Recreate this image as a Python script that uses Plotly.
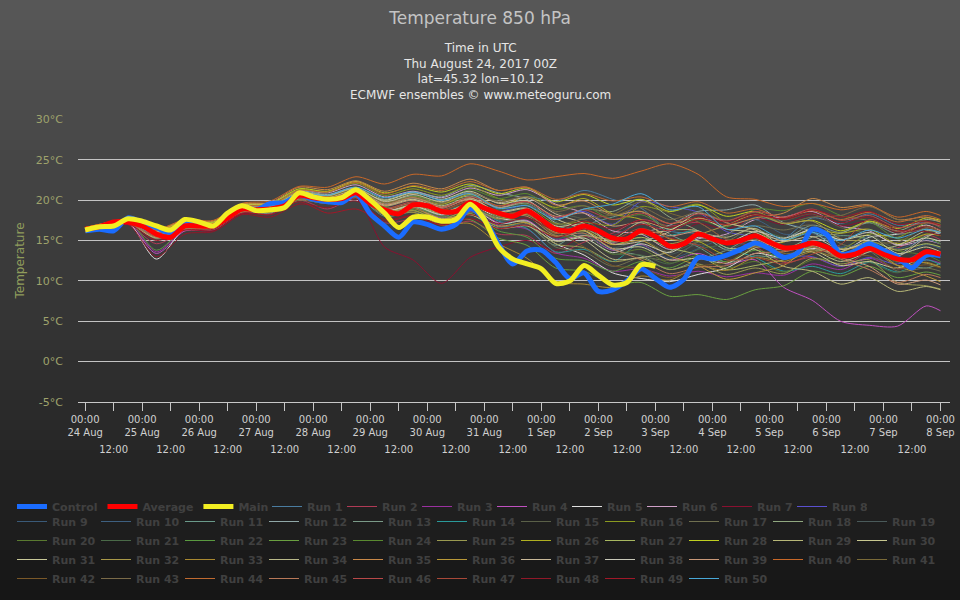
import pandas as pd
import plotly.graph_objects as go

START = pd.Timestamp("2017-08-24 00:00")

# forecast hours
STEP_HOURS = list(range(0, 361, 6))        # control / average, 6-hourly
MAIN_HOURS = list(range(0, 241, 6))        # deterministic run, 10 days
RUN_HOURS = [0, 6, 18, 30, 42, 54, 66, 78, 90, 102, 114, 126, 138, 150, 162, 174,
             186, 198, 210, 222, 234, 246, 258, 270, 282, 294, 306, 318, 330, 342, 354, 360]

control = [16.2, 16.4, 16.2, 17.8, 17.2, 16.6, 16.0, 17.4, 17.1, 16.8, 18.2, 19.2, 18.8, 19.6, 19.7,
           20.6, 20.1, 19.8, 19.7, 20.8,
           18.3, 16.8, 15.4, 17.3, 17.0, 16.4, 17.0, 19.0, 17.6, 14.6, 12.1, 13.7, 13.8, 12.3, 10.3,
           11.0, 8.7, 8.9, 10.0, 11.5,
           10.3, 9.2, 10.2, 12.9, 12.7, 13.2, 13.9, 14.7, 14.0, 12.9, 13.5, 16.4, 15.8, 13.3, 13.7,
           14.6, 13.8, 12.9, 11.6, 13.2, 13.1]

average = [16.4, 16.7, 17.3, 17.3, 16.8, 15.8, 15.4, 16.8, 16.8, 16.8, 17.8, 18.9, 18.8, 18.9, 19.3,
           20.6, 20.3, 20.1, 20.2, 20.9,
           19.6, 18.8, 18.3, 19.4, 19.3, 18.6, 18.6, 19.7, 19.0, 18.4, 18.0, 18.7, 17.6, 16.4, 16.2,
           16.8, 16.2, 15.3, 15.2, 16.2,
           15.5, 14.3, 14.6, 15.8, 15.2, 14.7, 15.0, 15.6, 14.8, 14.1, 14.2, 14.7, 14.2, 13.1, 13.3,
           14.0, 13.3, 12.7, 12.6, 13.6, 13.3]

main = [16.3, 16.7, 16.8, 17.7, 17.4, 16.8, 16.3, 17.6, 17.3, 16.8, 18.4, 19.3, 18.7, 18.8, 19.1,
        20.9, 20.4, 20.1, 20.3, 21.3,
        20.0, 18.4, 16.6, 17.9, 17.9, 17.4, 17.6, 19.5, 17.6, 14.2, 12.7, 12.1, 11.5, 9.7, 10.0,
        11.9, 10.7, 9.5, 9.8, 12.0,
        11.8]

run_01 = [16.6, 16.9, 17.5, 15.5, 16.9, 17.0, 19.2, 19.4, 21.0, 20.6, 21.4, 19.8, 20.6, 19.9, 21.0, 18.9, 20.4, 19.8, 21.2, 20.1, 19.0, 16.2, 15.8, 13.9, 14.6, 15.2, 17.8, 17.1, 18.3, 16.9, 17.2, 16.8]
run_02 = [16.3, 16.5, 17.0, 14.6, 16.2, 16.3, 18.4, 18.3, 20.0, 18.9, 20.2, 17.2, 17.6, 16.5, 17.4, 15.8, 15.6, 13.4, 14.8, 15.9, 17.6, 16.8, 17.2, 15.1, 14.2, 12.3, 12.9, 11.8, 13.6, 14.1, 15.7, 15.1]
run_03 = [16.5, 16.8, 17.4, 13.6, 16.4, 16.9, 19.0, 19.1, 20.5, 20.0, 21.1, 18.5, 19.0, 17.8, 18.6, 16.9, 16.4, 13.5, 12.8, 11.2, 11.5, 10.6, 11.2, 10.5, 11.0, 10.7, 12.1, 11.4, 12.8, 11.5, 12.6, 12.2]
run_04 = [16.2, 16.6, 17.1, 13.4, 16.2, 16.5, 18.7, 18.6, 20.2, 19.8, 20.8, 18.4, 19.1, 17.9, 19.2, 17.2, 17.5, 15.1, 15.6, 13.8, 14.5, 12.6, 13.4, 12.1, 12.6, 9.2, 7.6, 5.0, 4.5, 4.4, 6.9, 6.3]
run_05 = [16.4, 16.6, 17.2, 12.7, 16.5, 16.7, 18.8, 19.0, 20.4, 19.9, 20.6, 18.9, 19.6, 18.5, 19.4, 17.8, 17.1, 14.6, 13.2, 11.0, 10.3, 9.9, 10.8, 11.6, 13.4, 12.9, 14.0, 13.6, 15.4, 15.8, 16.9, 16.2]
run_06 = [16.5, 16.8, 17.6, 16.2, 17.3, 17.2, 19.3, 19.6, 21.2, 20.9, 21.9, 20.4, 21.1, 20.3, 21.5, 20.6, 21.3, 19.5, 18.4, 16.2, 15.8, 13.9, 15.2, 15.8, 17.6, 17.9, 18.6, 16.8, 16.2, 14.4, 15.0, 14.6]
run_07 = [16.3, 16.5, 17.0, 15.2, 16.4, 16.2, 18.3, 18.4, 20.1, 19.6, 20.2, 14.2, 12.6, 9.7, 12.9, 14.2, 15.0, 13.8, 15.5, 14.6, 16.3, 15.2, 17.1, 16.4, 17.8, 17.0, 18.2, 16.8, 17.4, 15.9, 16.6, 15.9]
run_08 = [16.4, 16.7, 17.3, 15.9, 17.1, 16.9, 19.0, 18.8, 20.3, 19.7, 20.4, 18.2, 19.0, 18.2, 19.5, 18.6, 19.4, 17.8, 18.6, 17.0, 19.8, 19.2, 18.5, 16.1, 15.4, 13.2, 13.0, 11.8, 12.9, 12.1, 13.8, 13.5]
run_09 = [16.5, 16.8, 17.2, 15.6, 16.6, 16.6, 18.6, 18.5, 20.1, 19.8, 20.7, 19.2, 20.2, 19.5, 20.6, 19.0, 18.9, 16.0, 15.8, 13.9, 14.4, 12.8, 14.0, 15.6, 17.9, 17.1, 16.3, 14.2, 15.5, 14.0, 15.1, 14.6]
run_10 = [16.3, 16.6, 17.1, 15.3, 16.5, 16.7, 18.8, 18.9, 20.5, 20.3, 21.2, 19.6, 20.0, 18.8, 19.4, 17.5, 17.3, 15.2, 16.4, 15.6, 17.2, 16.1, 17.7, 16.9, 17.6, 15.8, 15.9, 14.1, 14.8, 13.2, 14.5, 14.0]
run_11 = [16.6, 16.9, 17.5, 16.3, 17.4, 17.3, 19.3, 19.2, 20.8, 20.1, 20.5, 18.0, 18.5, 17.3, 18.2, 16.7, 16.9, 14.4, 16.8, 17.9, 18.6, 15.8, 14.2, 12.3, 13.1, 12.9, 14.8, 15.6, 15.1, 12.4, 11.6, 12.2]
run_12 = [16.4, 16.6, 17.2, 15.7, 16.7, 16.9, 19.1, 19.3, 21.1, 20.7, 21.6, 20.1, 21.0, 20.4, 21.8, 20.9, 20.1, 17.2, 16.6, 14.8, 15.9, 16.9, 18.6, 18.8, 19.4, 17.2, 16.1, 14.0, 14.4, 13.3, 15.6, 15.9]
run_13 = [16.5, 16.7, 17.2, 15.4, 16.5, 16.4, 18.5, 18.4, 20.0, 19.6, 20.4, 18.6, 19.3, 18.1, 18.8, 17.9, 18.5, 16.8, 16.2, 13.9, 13.1, 11.4, 12.6, 13.8, 15.6, 15.2, 16.9, 16.0, 17.2, 15.8, 16.4, 16.0]
run_14 = [16.2, 16.5, 17.1, 15.8, 16.9, 17.0, 19.0, 19.2, 20.7, 20.3, 21.0, 18.7, 19.2, 18.0, 19.2, 17.4, 16.5, 13.6, 13.9, 12.4, 14.9, 15.6, 16.2, 14.1, 12.9, 11.2, 11.8, 10.9, 12.3, 11.1, 12.6, 12.0]
run_15 = [16.4, 16.8, 17.4, 16.1, 17.2, 17.0, 19.1, 18.9, 20.4, 19.9, 20.8, 19.3, 20.1, 19.4, 20.8, 19.9, 20.4, 18.5, 17.6, 15.4, 15.2, 13.6, 14.9, 15.6, 17.8, 17.5, 18.3, 16.6, 15.8, 13.9, 14.6, 14.2]
run_16 = [16.6, 17.0, 17.6, 16.4, 17.5, 17.4, 19.5, 19.6, 21.3, 21.0, 22.1, 20.6, 21.4, 20.6, 21.7, 20.2, 19.4, 17.1, 17.3, 16.9, 19.2, 18.6, 19.5, 17.2, 16.4, 14.1, 14.8, 13.9, 15.8, 15.4, 17.2, 17.0]
run_17 = [16.3, 16.6, 17.2, 15.2, 16.3, 16.5, 18.6, 18.7, 20.2, 19.6, 20.3, 18.3, 18.7, 17.4, 18.5, 17.6, 17.1, 14.2, 13.6, 11.8, 12.9, 12.6, 14.8, 14.9, 16.8, 16.3, 16.9, 14.6, 13.7, 11.2, 11.6, 11.2]
run_18 = [16.5, 16.7, 17.3, 16.0, 16.9, 16.6, 18.7, 18.6, 20.4, 20.2, 21.3, 19.9, 20.5, 19.7, 20.5, 19.1, 19.6, 17.6, 18.9, 18.6, 20.1, 17.9, 16.2, 13.8, 14.2, 13.9, 15.4, 15.9, 17.3, 16.2, 17.6, 17.3]
run_19 = [16.4, 16.6, 17.2, 15.5, 16.6, 16.8, 18.8, 18.7, 20.3, 19.9, 20.6, 18.1, 18.9, 17.5, 18.3, 16.6, 17.0, 15.3, 15.7, 14.1, 15.0, 13.3, 14.5, 13.8, 15.2, 14.1, 14.6, 12.8, 13.6, 12.3, 13.7, 13.2]
run_20 = [16.5, 16.9, 17.4, 16.2, 17.1, 17.1, 19.2, 19.3, 20.9, 20.5, 21.5, 20.0, 20.8, 19.6, 20.3, 18.4, 18.2, 15.7, 15.4, 13.3, 13.9, 12.2, 13.1, 11.6, 12.4, 11.1, 12.6, 12.9, 14.8, 13.7, 13.2, 12.4]
run_21 = [16.3, 16.6, 17.1, 15.6, 16.7, 16.6, 18.7, 18.9, 20.5, 20.0, 20.7, 18.6, 19.5, 18.7, 19.9, 18.8, 19.5, 17.4, 15.9, 13.4, 13.2, 12.1, 13.9, 14.6, 16.2, 15.4, 14.9, 12.6, 12.3, 11.0, 12.9, 13.4]
run_22 = [16.6, 16.9, 17.5, 13.8, 16.5, 16.8, 18.9, 19.1, 20.6, 20.4, 21.2, 19.1, 19.3, 17.9, 18.4, 16.2, 15.4, 12.8, 12.5, 11.2, 12.4, 11.6, 13.0, 12.4, 13.8, 12.9, 14.2, 13.0, 14.1, 12.4, 13.3, 12.9]
run_23 = [16.4, 16.7, 17.3, 15.9, 16.9, 16.9, 18.9, 19.0, 20.6, 20.1, 20.8, 18.4, 18.8, 17.2, 17.6, 15.3, 14.4, 11.6, 11.2, 9.6, 9.8, 8.1, 8.3, 7.7, 8.9, 9.4, 11.2, 10.6, 11.8, 10.4, 11.1, 10.7]
run_24 = [16.5, 16.8, 17.4, 15.7, 16.7, 16.6, 18.7, 18.6, 20.3, 19.9, 20.9, 19.2, 20.5, 19.8, 21.3, 20.2, 20.8, 18.9, 19.3, 17.6, 18.2, 16.6, 17.6, 16.7, 18.9, 18.7, 19.6, 18.1, 17.4, 15.2, 15.4, 14.6]
run_25 = [16.3, 16.6, 17.2, 15.4, 16.4, 16.5, 18.5, 18.6, 20.1, 19.7, 20.5, 18.5, 19.2, 18.3, 19.4, 18.0, 17.2, 14.6, 14.1, 12.4, 12.8, 11.4, 12.1, 10.8, 11.6, 10.9, 12.8, 12.1, 12.6, 9.8, 9.4, 9.0]
run_26 = [16.5, 16.9, 17.5, 16.2, 17.3, 17.2, 19.3, 19.4, 21.0, 20.5, 21.3, 19.7, 20.4, 19.5, 20.7, 19.3, 20.4, 19.1, 20.2, 18.3, 17.6, 15.2, 14.9, 13.2, 14.4, 14.8, 16.3, 15.9, 16.4, 14.6, 15.8, 15.6]
run_27 = [16.4, 16.7, 17.3, 15.8, 16.8, 16.8, 18.9, 18.8, 20.4, 20.0, 20.7, 18.7, 19.4, 18.4, 19.6, 18.2, 18.3, 15.9, 16.2, 14.5, 15.4, 14.1, 13.2, 11.4, 11.9, 12.6, 13.8, 13.6, 14.9, 13.8, 14.6, 14.2]
run_28 = [16.6, 16.9, 17.6, 16.3, 17.4, 17.3, 19.4, 19.6, 21.4, 21.1, 22.3, 20.9, 21.7, 21.0, 22.0, 20.8, 21.5, 19.8, 20.7, 19.4, 20.1, 18.6, 19.4, 18.0, 18.6, 17.1, 17.5, 16.2, 17.4, 16.5, 17.8, 17.5]
run_29 = [16.3, 16.6, 17.1, 15.3, 16.5, 16.6, 18.8, 18.9, 20.6, 20.2, 20.9, 18.8, 19.1, 17.7, 18.2, 16.5, 16.8, 14.9, 15.6, 15.2, 17.3, 16.4, 16.2, 14.1, 13.9, 11.8, 11.2, 9.6, 10.4, 8.7, 9.3, 8.9]
run_30 = [16.5, 16.8, 17.4, 16.0, 17.0, 17.0, 19.1, 19.0, 20.7, 20.3, 21.1, 19.4, 20.1, 19.1, 20.1, 18.6, 19.0, 16.8, 17.0, 15.2, 15.8, 16.3, 17.8, 16.4, 16.0, 14.2, 13.6, 11.9, 12.4, 11.6, 13.2, 13.5]
run_31 = [16.4, 16.6, 17.2, 15.7, 16.8, 16.7, 18.8, 18.9, 20.5, 20.3, 21.2, 20.0, 20.9, 20.1, 21.1, 19.6, 19.9, 17.7, 16.3, 14.0, 14.2, 12.6, 12.8, 12.2, 14.1, 14.9, 16.4, 15.1, 15.6, 13.4, 14.2, 13.6]
run_32 = [16.3, 16.7, 17.3, 15.5, 16.6, 16.7, 18.8, 18.7, 20.3, 19.8, 20.5, 18.2, 18.7, 17.6, 18.9, 17.7, 18.2, 16.0, 16.4, 14.9, 15.9, 14.6, 15.7, 16.9, 18.2, 17.1, 17.4, 15.2, 14.8, 12.6, 12.2, 11.7]
run_33 = [16.5, 16.8, 17.3, 15.9, 16.9, 16.9, 18.9, 18.9, 20.4, 19.9, 20.6, 18.3, 18.5, 16.9, 17.1, 14.6, 12.8, 9.9, 9.6, 9.2, 10.6, 10.1, 11.8, 11.3, 12.9, 12.4, 13.6, 12.9, 13.8, 11.9, 12.3, 11.7]
run_34 = [16.4, 16.7, 17.3, 15.9, 17.0, 17.1, 19.2, 19.1, 20.8, 20.5, 21.4, 19.5, 20.3, 19.3, 20.3, 18.5, 18.9, 16.6, 15.1, 12.7, 12.9, 13.6, 15.8, 15.4, 16.5, 14.1, 13.9, 12.4, 13.6, 14.4, 16.2, 16.0]
run_35 = [16.6, 17.0, 17.6, 16.3, 17.5, 17.4, 19.5, 19.7, 21.6, 21.3, 22.4, 21.1, 22.1, 21.4, 22.6, 21.2, 21.6, 19.4, 19.9, 18.2, 18.6, 17.1, 17.8, 16.9, 17.8, 18.4, 20.2, 19.1, 19.4, 17.6, 17.9, 17.3]
run_36 = [16.3, 16.6, 17.2, 15.6, 16.7, 16.8, 18.9, 19.1, 20.7, 20.2, 20.8, 18.6, 19.0, 17.6, 18.3, 16.8, 17.2, 15.5, 16.2, 14.5, 15.0, 13.1, 11.9, 10.2, 11.0, 11.9, 14.3, 13.9, 14.1, 11.9, 10.6, 9.9]
run_37 = [16.5, 16.8, 17.4, 16.1, 17.1, 17.0, 19.0, 19.2, 20.9, 20.6, 21.5, 19.8, 20.7, 19.8, 20.9, 19.7, 20.3, 18.3, 17.1, 14.6, 14.9, 16.1, 18.4, 17.2, 16.3, 14.9, 15.5, 13.9, 14.6, 13.1, 15.4, 16.2]
run_38 = [16.4, 16.6, 17.1, 15.6, 16.6, 16.5, 18.6, 18.5, 20.2, 19.8, 20.6, 18.7, 19.3, 18.2, 19.1, 17.1, 17.4, 15.0, 15.3, 13.5, 14.6, 13.5, 15.4, 14.7, 16.1, 15.3, 16.3, 15.1, 16.0, 14.5, 15.3, 14.9]
run_39 = [16.4, 16.8, 17.4, 15.9, 16.9, 16.8, 18.8, 18.9, 20.5, 20.1, 21.0, 19.3, 20.0, 19.0, 20.2, 19.1, 19.8, 18.0, 18.4, 16.8, 17.2, 15.6, 16.1, 14.5, 15.1, 13.8, 14.4, 12.9, 11.8, 9.6, 10.1, 9.5]
run_40 = [16.6, 17.0, 17.6, 16.4, 17.6, 17.5, 19.6, 19.9, 21.7, 21.6, 22.9, 22.0, 23.2, 23.0, 24.5, 23.6, 22.5, 22.9, 23.3, 22.7, 23.6, 24.5, 23.2, 20.4, 20.1, 19.2, 19.6, 18.8, 19.3, 17.9, 18.6, 18.1]
run_41 = [16.3, 16.6, 17.1, 15.5, 16.5, 16.5, 18.6, 18.5, 20.0, 19.6, 20.4, 18.3, 19.0, 18.0, 19.1, 17.9, 18.6, 17.0, 17.7, 18.2, 19.8, 18.4, 17.3, 15.2, 15.1, 13.4, 13.8, 12.9, 14.6, 14.8, 16.6, 16.1]
run_42 = [16.5, 16.8, 17.3, 15.8, 16.8, 16.8, 18.9, 19.0, 20.6, 20.2, 21.0, 19.0, 19.7, 18.7, 19.8, 18.3, 18.5, 16.2, 14.2, 11.9, 11.6, 10.4, 11.8, 12.3, 14.2, 13.6, 14.8, 13.2, 13.1, 11.5, 12.0, 11.6]
run_43 = [16.4, 16.7, 17.2, 15.7, 16.8, 16.9, 19.0, 19.1, 20.8, 20.4, 21.3, 19.7, 20.4, 19.6, 20.9, 19.8, 20.4, 18.6, 19.3, 18.1, 19.1, 17.6, 18.5, 17.5, 18.5, 17.2, 17.9, 18.1, 19.2, 17.6, 17.4, 16.6]
run_44 = [16.6, 16.9, 17.5, 16.2, 17.2, 17.1, 19.2, 19.4, 21.2, 21.0, 22.2, 20.8, 21.8, 21.2, 22.3, 21.2, 21.6, 20.1, 20.8, 19.9, 20.4, 19.2, 19.8, 18.4, 18.9, 17.8, 18.7, 17.6, 18.5, 17.3, 18.1, 17.6]
run_45 = [16.3, 16.6, 17.2, 15.4, 16.5, 16.6, 18.7, 18.8, 20.5, 20.2, 21.1, 19.5, 20.3, 19.2, 20.0, 18.2, 18.0, 15.6, 15.9, 14.0, 12.6, 10.9, 11.7, 11.9, 13.4, 13.6, 14.2, 12.7, 11.4, 9.8, 10.8, 10.4]
run_46 = [16.5, 16.8, 17.4, 15.9, 17.0, 17.0, 19.1, 19.1, 20.6, 20.1, 20.9, 19.0, 19.8, 19.0, 20.4, 19.3, 19.8, 17.9, 18.8, 17.6, 18.4, 17.1, 18.3, 17.4, 18.6, 17.9, 18.9, 17.5, 18.1, 16.6, 17.2, 16.8]
run_47 = [16.4, 16.7, 17.3, 15.6, 16.6, 16.7, 18.8, 18.6, 20.2, 19.7, 20.6, 18.8, 19.6, 18.8, 19.9, 18.4, 18.3, 15.9, 16.7, 15.2, 16.5, 15.3, 14.4, 12.6, 12.9, 12.1, 13.3, 14.5, 17.6, 16.1, 16.8, 16.3]
run_48 = [16.3, 16.5, 17.0, 13.0, 15.8, 16.1, 18.2, 17.9, 19.5, 19.1, 19.9, 17.6, 18.1, 17.0, 18.2, 17.1, 17.8, 16.3, 17.4, 16.4, 17.5, 16.6, 17.9, 17.3, 18.3, 17.6, 18.4, 17.2, 17.9, 16.3, 16.1, 15.6]
run_49 = [16.4, 16.6, 17.1, 15.0, 16.3, 16.4, 18.4, 18.2, 19.8, 18.4, 18.9, 17.4, 18.0, 16.9, 17.7, 16.5, 16.9, 15.4, 16.4, 15.6, 17.0, 16.2, 17.6, 17.0, 18.1, 17.7, 18.8, 17.9, 18.6, 17.0, 17.4, 16.9]
run_50 = [16.5, 16.8, 17.3, 15.7, 16.8, 16.9, 19.0, 19.2, 20.8, 20.6, 21.6, 20.3, 21.0, 20.0, 20.8, 19.0, 19.3, 17.6, 18.9, 19.5, 20.8, 18.8, 19.2, 16.4, 16.8, 15.1, 16.0, 15.0, 16.3, 15.3, 16.4, 16.0]

runs = [run_01, run_02, run_03, run_04, run_05, run_06, run_07, run_08, run_09, run_10,
        run_11, run_12, run_13, run_14, run_15, run_16, run_17, run_18, run_19, run_20,
        run_21, run_22, run_23, run_24, run_25, run_26, run_27, run_28, run_29, run_30,
        run_31, run_32, run_33, run_34, run_35, run_36, run_37, run_38, run_39, run_40,
        run_41, run_42, run_43, run_44, run_45, run_46, run_47, run_48, run_49, run_50]

RUN_COLORS = ["#4a7ca0", "#b03a55", "#9a30a0", "#c050c0", "#e0e0e0", "#d0a0c8", "#8a1030", "#5a50d0",
              "#3a5a78", "#3e6080", "#6a9a8a", "#90a8a8", "#7a9a88", "#2a9a9a", "#5a6048", "#8a9a20",
              "#707050", "#90a880", "#4a5a5a", "#5a7a30", "#4a6a48", "#5a9a40", "#6aa040", "#5a8a30",
              "#9a9a50", "#b0b020", "#a8b860", "#c0d020", "#b8b878", "#c8c890", "#c8c898", "#a89848",
              "#a88830", "#b8b888", "#c88848", "#b89838", "#c8b898", "#c8c8b8", "#c89878", "#c86828",
              "#7a6a38", "#7a5828", "#7a6a48", "#c06a30", "#b87858", "#b84848", "#a84838", "#901828",
              "#a01828", "#48a8d8"]

Y_TICKS = [-5, 0, 5, 10, 15, 20, 25, 30]


def to_time(hours):
    return [START + pd.Timedelta(hours=h) for h in hours]


fig = go.Figure()

run_x = to_time(RUN_HOURS)
for i, vals in enumerate(runs):
    # first legend row holds Run 1-8, the rest wrap in the second legend
    fig.add_trace(go.Scatter(x=run_x, y=vals, name=f"Run {i + 1}", mode="lines",
                             line=dict(color=RUN_COLORS[i], width=1, shape="spline", smoothing=0.8),
                             legend="legend3" if i < 8 else "legend2"))

# thick lines drawn on top
fig.add_trace(go.Scatter(x=to_time(STEP_HOURS), y=control, name="Control", mode="lines",
                         line=dict(color="#1a6cff", width=5, shape="spline", smoothing=0.8)))
fig.add_trace(go.Scatter(x=to_time(STEP_HOURS), y=average, name="Average", mode="lines",
                         line=dict(color="#ff0000", width=5, shape="spline", smoothing=0.8)))
fig.add_trace(go.Scatter(x=to_time(MAIN_HOURS), y=main, name="Main", mode="lines",
                         line=dict(color="#f2ee22", width=5, shape="spline", smoothing=0.8)))

# carrier for the 12:00 tick labels on their own line
tick_times = pd.date_range(START, periods=31, freq="12h")
noon_times = [t for t in tick_times if t.hour == 12]
fig.add_trace(go.Scatter(x=[START], y=[None], xaxis="x2", showlegend=False, hoverinfo="skip"))

# gradient background
W, H = 960, 600
L, R, T, B = 78, 10, 119, 198
pw, ph = W - L - R, H - T - B
bands = 60
shapes = []
for k in range(bands):
    y0 = k * H / bands
    y1 = (k + 1) * H / bands + 1.5
    g = int(88 - (88 - 22) * (k + 0.5) / bands)
    shapes.append(dict(type="rect", xref="paper", yref="paper", layer="below",
                       x0=-L / pw, x1=(W - L) / pw,
                       y0=(H - B - y1) / ph, y1=(H - B - y0) / ph,
                       line=dict(width=0), fillcolor=f"rgb({g},{g},{g})"))

legend_font = dict(size=11, color="#404040", weight="bold")
fig.update_layout(
    width=W, height=H,
    margin=dict(l=L, r=R, t=T, b=B, autoexpand=False),
    paper_bgcolor="#2a2a2a",
    plot_bgcolor="rgba(0,0,0,0)",
    shapes=shapes,
    font=dict(family="DejaVu Sans", color="#cccccc"),
    title=dict(text="Temperature 850 hPa", x=0.5, xref="container", xanchor="center",
               y=1 - 18 / H, yref="container", yanchor="middle",
               font=dict(size=17, color="#c4c4c4")),
    annotations=[dict(text="Time in UTC<br>Thu August 24, 2017 00Z<br>lat=45.32 lon=10.12<br>"
                           "ECMWF ensembles © www.meteoguru.com",
                      xref="paper", yref="paper", x=(480 - L) / pw, y=1 + (T - 72) / ph,
                      xanchor="center", yanchor="middle", showarrow=False,
                      font=dict(size=12, color="#e6e6e6"))],
    showlegend=True,
    legend=dict(orientation="h", x=(12 - L) / pw, xanchor="left", y=(H - B - 492) / ph,
                yanchor="top", font=legend_font, bgcolor="rgba(0,0,0,0)", itemclick=False),
    legend3=dict(orientation="h", x=(267 - L) / pw, xanchor="left", y=(H - B - 492) / ph,
                 yanchor="top", font=legend_font, entrywidth=30,
                 bgcolor="rgba(0,0,0,0)", itemclick=False),
    legend2=dict(orientation="h", x=(12 - L) / pw, xanchor="left", y=(H - B - 507) / ph,
                 yanchor="top", font=legend_font, entrywidth=39,
                 bgcolor="rgba(0,0,0,0)", itemclick=False),
    hovermode=False,
)

fig.update_xaxes(
    type="date", automargin=False,
    range=[START - pd.Timedelta(hours=3), START + pd.Timedelta(hours=364)],
    tickvals=tick_times, ticktext=[f"00:00<br>{t.day} {t:%b}" if t.hour == 0 else ""
                                   for t in tick_times],
    tickangle=0, ticks="outside", ticklen=8, tickcolor="#c8c8c8",
    showline=True, linecolor="#c8c8c8", linewidth=1,
    showgrid=False, zeroline=False,
    tickfont=dict(size=10, color="#d0d0d0"),
)
fig.update_layout(xaxis2=dict(
    type="date", overlaying="x", matches="x", anchor="y", side="bottom", automargin=False,
    tickvals=noon_times, ticktext=["12:00"] * len(noon_times), tickangle=0,
    ticks="", ticklabelstandoff=40, showline=False, showgrid=False, zeroline=False,
    tickfont=dict(size=10, color="#d0d0d0"),
))
fig.update_yaxes(
    automargin=False,
    range=[-5, 30.05],
    tickvals=Y_TICKS, ticktext=[f"{v}°C" for v in Y_TICKS],
    showgrid=True, gridcolor="#c4c4c4", gridwidth=1, zeroline=False,
    ticklabelstandoff=14,
    tickfont=dict(size=11, color="#9fa36c"),
    title=dict(text="Temperature", font=dict(size=12, color="#8f9c5c"), standoff=8),
)

fig.write_html("out.html", config={"displayModeBar": False},
               post_script="document.body.style.margin='0';")
